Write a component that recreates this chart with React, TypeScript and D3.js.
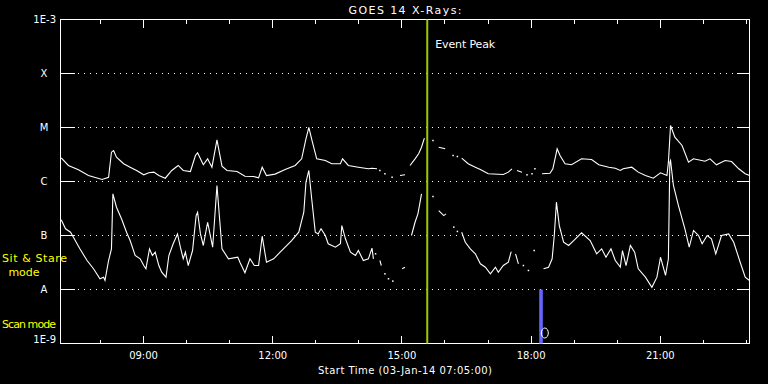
import React, { useEffect, useRef } from 'react';
import * as d3 from 'd3';

// plot window: 16 hours from the start time
const startTime = new Date(2014, 0, 3, 7, 5, 0);
const endTime = new Date(2014, 0, 3, 23, 5, 0);

// flare class levels (W/m^2) and their letters
const classLevels = [1e-8, 1e-7, 1e-6, 1e-5, 1e-4];
const classLabels = ['A', 'B', 'C', 'M', 'X'];
const edgeLevels = [1e-3, 1e-9];
const edgeLabels = ['1E-3', '1E-9'];

// minutes after start
const eventPeakMin = 511;
const scanModeMin = [667, 672];

// [minutes after start, flux W/m^2], null = data gap
const longFlux: ([number, number] | null)[] = [
    [1, 2.75e-6], [11, 1.98e-6], [25, 1.65e-6], [39, 1.29e-6], [58, 1.09e-6], [67, 1.2e-6],
    [71, 3.49e-6], [74, 3.75e-6], [78, 2.82e-6], [88, 2.13e-6], [97, 1.84e-6], [106, 1.6e-6],
    [116, 1.33e-6], [123, 1.45e-6], [130, 1.49e-6], [137, 1.29e-6], [146, 1.15e-6], [155, 1.6e-6],
    [164, 1.98e-6], [171, 1.6e-6], [181, 1.53e-6], [188, 3.03e-6], [191, 3.4e-6], [195, 2.63e-6],
    [199, 2.04e-6], [205, 2.63e-6], [211, 1.84e-6], [218, 5.92e-6], [225, 1.92e-6], [232, 1.6e-6],
    [246, 1.53e-6], [257, 1.25e-6], [269, 1.24e-6], [276, 1.17e-6], [281, 1.84e-6], [287, 1.29e-6],
    [299, 1.37e-6], [313, 1.67e-6], [327, 1.98e-6], [336, 2.63e-6], [342, 6.18e-6], [346, 1.01e-5],
    [351, 5.34e-6], [357, 2.63e-6], [369, 2.45e-6], [378, 2.13e-6], [390, 2.13e-6], [393, 2.63e-6],
    [401, 1.98e-6], [415, 1.84e-6], [429, 1.72e-6], [434, 1.76e-6], [441, 1.72e-6], null,
    [445, 1.6e-6], null, [452, 1.39e-6], null, [462, 1.2e-6], null, [473, 1.29e-6], [480, 1.33e-6], null,
    [487, 1.98e-6], [494, 2.63e-6], [499, 3.26e-6], [503, 4.32e-6], [507, 6.34e-6], null,
    [519, 5.74e-6], null, [527, 4.32e-6], [536, 4.03e-6], null, [547, 3.03e-6], null, [553, 2.9e-6], null,
    [559, 2.7e-6], [568, 2.13e-6], [578, 1.84e-6], [585, 1.67e-6], [596, 1.39e-6], [617, 1.35e-6],
    [624, 1.49e-6], [629, 1.72e-6], null, [636, 1.6e-6], [643, 1.49e-6], null, [650, 1.33e-6], null,
    [657, 1.39e-6], null, [661, 1.72e-6], null,
    [671, 1.39e-6], [682, 1.42e-6], [686, 1.72e-6], [692, 4.03e-6], [696, 3.03e-6], [703, 2.13e-6],
    [712, 2.04e-6], [726, 2.63e-6], [740, 2.55e-6], [750, 2.04e-6], [764, 1.84e-6], [773, 1.76e-6],
    [780, 1.6e-6], [784, 1.72e-6], [796, 1.84e-6], [805, 1.49e-6], [815, 1.29e-6], [826, 1.15e-6],
    [836, 1.45e-6], [845, 1.29e-6], [847, 2.28e-6], [850, 1.09e-5], [856, 6.61e-6], [866, 4.64e-6],
    [875, 2.28e-6], [882, 2.63e-6], [898, 2.38e-6], [905, 2.63e-6], [914, 2.04e-6], [926, 2.45e-6],
    [935, 2.34e-6], [945, 1.72e-6], [954, 1.39e-6], [960, 1.29e-6],
];

const shortFlux: ([number, number] | null)[] = [
    [1, 1.95e-7], [7, 1.33e-7], [14, 1.15e-7], [18, 9.3e-8], [27, 5.67e-8], [37, 3.44e-8],
    [46, 2.42e-8], [55, 1.58e-8], [60, 1.69e-8], [62, 1.47e-8], [67, 3.44e-8], [71, 5.67e-8],
    [73, 5.92e-7], [78, 3.34e-7], [85, 2.04e-7], [92, 1.15e-7], [97, 8.07e-8], [104, 4.26e-8],
    [111, 3.7e-8], [116, 2.78e-8], [119, 2.42e-8], [124, 5.67e-8], [128, 4.26e-8], [132, 4.91e-8],
    [137, 2.78e-8], [141, 2.09e-8], [147, 1.69e-8], [151, 4.26e-8], [157, 7.02e-8], [163, 1.07e-7],
    [167, 6.07e-8], [171, 3.7e-8], [174, 4.91e-8], [178, 2.78e-8], [184, 5.27e-8], [189, 2.34e-7],
    [191, 2.7e-7], [195, 1.07e-7], [199, 6.53e-8], [205, 1.76e-7], [212, 6.07e-8], [218, 8.43e-7],
    [225, 5.67e-8], [234, 3.7e-8], [247, 3.96e-8], [250, 3.2e-8], [257, 2.04e-8], [264, 3.7e-8],
    [270, 2.78e-8], [276, 2.78e-8], [281, 9.7e-8], [287, 3.2e-8], [297, 3.7e-8], [306, 4.91e-8],
    [313, 6.07e-8], [322, 8.07e-8], [332, 1.15e-7], [339, 2.7e-7], [342, 9.7e-7], [346, 1.6e-6],
    [350, 4.78e-7], [355, 1.15e-7], [359, 1.07e-7], [363, 1.33e-7], [369, 1.0e-7], [373, 7.02e-8],
    [383, 6.07e-8], [390, 7.02e-8], [392, 1.53e-7], [397, 8.69e-8], [404, 4.91e-8], [411, 4.26e-8],
    [415, 5.27e-8], [422, 3.44e-8], [429, 3.7e-8], [434, 5.82e-8], [436, 3.7e-8], null,
    [439, 4.58e-8], null, [445, 3.44e-8], [447, 2.78e-8], null, [452, 1.95e-8], null, [457, 1.58e-8], null,
    [463, 1.43e-8], null, [476, 2.42e-8], [480, 2.59e-8], null,
    [489, 1.0e-7], [494, 1.76e-7], [498, 2.52e-7], [501, 4.14e-7], [503, 5.92e-7], null,
    [519, 5.27e-7], null, [527, 2.9e-7], [534, 2.34e-7], [537, 2.52e-7], null, [548, 1.43e-7], null,
    [553, 1.19e-7], null,
    [559, 1.15e-7], [564, 7.51e-8], [571, 5.67e-8], [578, 4.58e-8], [585, 2.99e-8], [592, 2.59e-8],
    [599, 1.95e-8], [606, 2.59e-8], [610, 2.09e-8], [617, 2.78e-8], [624, 3.2e-8], [628, 5.05e-8], null,
    [634, 4.58e-8], [638, 2.99e-8], null, [645, 2.78e-8], null, [652, 2.25e-8], null, [660, 5.27e-8], null,
    [673, 2.42e-8], [680, 2.59e-8], [685, 3.7e-8], [688, 1.0e-7], [691, 4.14e-7], [695, 1.53e-7],
    [701, 7.51e-8], [708, 6.53e-8], [715, 8.07e-8], [726, 1.12e-7], [738, 8.07e-8], [747, 4.58e-8],
    [754, 5.67e-8], [760, 3.96e-8], [767, 5.67e-8], [773, 3.44e-8], [780, 2.59e-8], [783, 5.27e-8],
    [788, 2.78e-8], [794, 6.53e-8], [800, 4.91e-8], [805, 2.42e-8], [815, 1.69e-8], [824, 1.1e-8],
    [831, 1.69e-8], [836, 3.96e-8], [843, 1.82e-8], [847, 3.7e-8], [849, 2.28e-6], [850, 2.45e-6],
    [854, 8.43e-7], [861, 3.59e-7], [870, 1.33e-7], [876, 6.07e-8], [882, 1.24e-7], [889, 1.0e-7],
    [894, 7.02e-8], [901, 1.0e-7], [907, 8.69e-8], [913, 4.58e-8], [921, 1.0e-7], [931, 1.07e-7],
    [938, 7.51e-8], [947, 3.2e-8], [954, 1.69e-8], [960, 1.47e-8],
];

const FONT = "'DejaVu Sans', sans-serif";

const GoesXrayChart = () => {
    const svgRef = useRef<SVGSVGElement>(null);

    useEffect(() => {
        if (!svgRef.current) return;
        const width = 768;
        const height = 384;
        const left = 60.5, right = 749.5, top = 19.5, bottom = 343.5;

        const svg = d3.select(svgRef.current);
        svg.selectAll("*").remove();
        svg.attr("width", width).attr("height", height);

        svg.append("rect").attr("width", width).attr("height", height).attr("fill", "#000");

        const toDate = (min: number) => new Date(startTime.getTime() + min * 60000);
        const x = d3.scaleTime().domain([startTime, endTime]).range([left, right]);
        const y = d3.scaleLog().domain([1e-9, 1e-3]).range([bottom, top]);

        // dotted class grid lines + short ticks on both sides
        const grid = svg.append("g").attr("stroke", "#fff").attr("shape-rendering", "crispEdges");
        classLevels.forEach(level => {
            const yy = Math.round(y(level) - 0.5) + 0.5;
            grid.append("line").attr("x1", left).attr("x2", left + 14).attr("y1", yy).attr("y2", yy);
            grid.append("line").attr("x1", right - 13).attr("x2", right).attr("y1", yy).attr("y2", yy);
            grid.append("line").attr("x1", left + 17).attr("x2", right - 14).attr("y1", yy).attr("y2", yy)
                .attr("stroke-dasharray", "1,5");
        });

        // time axes: hourly minor ticks, 3-hourly labelled ticks
        const bottomMinor = d3.axisBottom(x).ticks(d3.timeHour.every(1)).tickSize(-4).tickSizeOuter(0).tickFormat(() => "");
        const bottomMajor = d3.axisBottom(x).ticks(d3.timeHour.every(3)).tickSize(-8).tickSizeOuter(0)
            .tickPadding(8).tickFormat(d3.timeFormat("%H:%M") as any);
        const topMinor = d3.axisTop(x).ticks(d3.timeHour.every(1)).tickSize(-4).tickSizeOuter(0).tickFormat(() => "");
        const topMajor = d3.axisTop(x).ticks(d3.timeHour.every(3)).tickSize(-8).tickSizeOuter(0).tickFormat(() => "");

        const axes = [
            svg.append("g").attr("transform", `translate(0,${bottom})`).call(bottomMinor),
            svg.append("g").attr("transform", `translate(0,${bottom})`).call(bottomMajor),
            svg.append("g").attr("transform", `translate(0,${top})`).call(topMinor),
            svg.append("g").attr("transform", `translate(0,${top})`).call(topMajor),
        ];
        axes.forEach(a => {
            a.select(".domain").remove();
            a.selectAll(".tick line").attr("stroke", "#fff").attr("shape-rendering", "crispEdges");
            a.selectAll(".tick text").attr("fill", "#fff").attr("font-family", FONT).attr("font-size", 10);
        });

        // frame
        svg.append("rect")
            .attr("x", left).attr("y", top)
            .attr("width", right - left).attr("height", bottom - top)
            .attr("fill", "none").attr("stroke", "#fff").attr("shape-rendering", "crispEdges");

        // y labels
        const labels = svg.append("g").attr("fill", "#fff").attr("font-family", FONT).attr("font-size", 10);
        classLevels.forEach((level, i) => {
            labels.append("text").attr("x", 44).attr("y", y(level)).attr("dy", "0.35em")
                .attr("text-anchor", "middle").text(classLabels[i]);
        });
        edgeLevels.forEach((level, i) => {
            labels.append("text").attr("x", 56).attr("y", y(level) - (i === 1 ? 4 : 0)).attr("dy", "0.35em")
                .attr("text-anchor", "end").text(edgeLabels[i]);
        });

        // mode labels
        const modes = svg.append("g").attr("fill", "#ffff00").attr("font-family", FONT).attr("font-size", 11);
        modes.append("text").attr("x", 2).attr("y", 262).attr("textLength", 65).text("Sit & Stare");
        modes.append("text").attr("x", 24).attr("y", 276).attr("text-anchor", "middle").text("mode");
        modes.append("text").attr("x", 2).attr("y", 328).attr("textLength", 54).text("Scan mode");

        // event peak marker
        const peakX = x(toDate(eventPeakMin));
        svg.append("line")
            .attr("x1", peakX).attr("x2", peakX).attr("y1", top).attr("y2", bottom)
            .attr("stroke", "#a0c800").attr("stroke-width", 2);
        svg.append("text").attr("x", peakX + 8).attr("y", 48)
            .attr("fill", "#fff").attr("font-family", FONT).attr("font-size", 11)
            .attr("textLength", 60).text("Event Peak");

        // scan mode bar
        const sx0 = x(toDate(scanModeMin[0]));
        const sx1 = x(toDate(scanModeMin[1]));
        svg.append("rect")
            .attr("x", sx0).attr("y", y(1e-8))
            .attr("width", sx1 - sx0).attr("height", y(1e-9) - y(1e-8))
            .attr("fill", "#6464ff");
        svg.append("ellipse")
            .attr("cx", sx1 + 2).attr("cy", y(1e-9) - 10.5).attr("rx", 3.5).attr("ry", 5)
            .attr("fill", "none").attr("stroke", "#fff").attr("stroke-width", 1);

        // flux curves
        const line = d3.line<[number, number] | null>()
            .defined(d => d !== null)
            .x(d => x(toDate(d![0])))
            .y(d => y(d![1]));

        [longFlux, shortFlux].forEach(series => {
            svg.append("path")
                .datum(series)
                .attr("d", line)
                .attr("fill", "none")
                .attr("stroke", "#fff")
                .attr("stroke-width", 1.1);
            // lone samples between gaps
            const lone = series.filter((d, i) => d !== null && !series[i - 1] && !series[i + 1]) as [number, number][];
            svg.append("g").selectAll("rect")
                .data(lone)
                .join("rect")
                .attr("x", d => x(toDate(d[0])) - 0.75)
                .attr("y", d => y(d[1]) - 0.75)
                .attr("width", 1.5).attr("height", 1.5)
                .attr("fill", "#fff");
        });

        // titles
        const cx = (left + right) / 2;
        svg.append("text").attr("x", cx).attr("y", 14).attr("text-anchor", "middle")
            .attr("fill", "#fff").attr("font-family", FONT).attr("font-size", 11)
            .attr("textLength", 113).text("GOES 14 X-Rays:");
        svg.append("text").attr("x", cx).attr("y", 374).attr("text-anchor", "middle")
            .attr("fill", "#fff").attr("font-family", FONT).attr("font-size", 10)
            .attr("textLength", 174).text("Start Time (03-Jan-14 07:05:00)");
    }, []);

    return (
        <div style={{ position: 'absolute', left: 0, top: 0, width: 768, height: 384, background: '#000' }}>
            <svg ref={svgRef} style={{ display: 'block' }} />
        </div>
    );
};

export default function App() {
    return <GoesXrayChart />;
}
